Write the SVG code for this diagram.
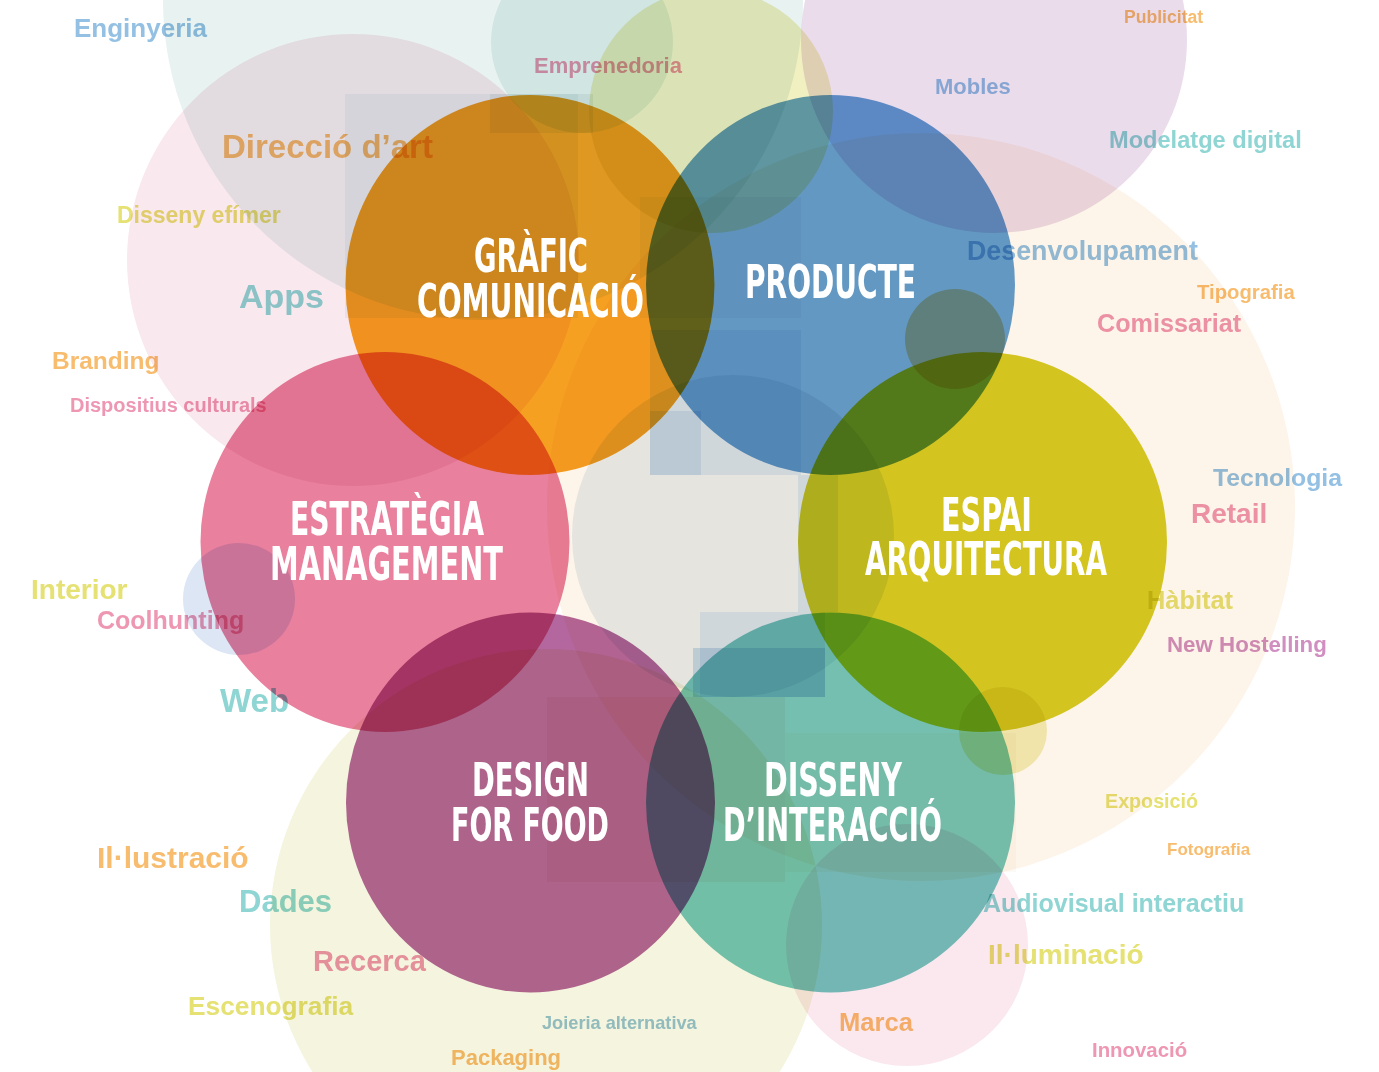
<svg xmlns="http://www.w3.org/2000/svg" width="1379" height="1072" viewBox="0 0 1379 1072">
<style>
.m{mix-blend-mode:multiply}
.lbl{font-family:'Liberation Sans',Arial,sans-serif;font-weight:bold;mix-blend-mode:multiply}
.lb{fill:#93c0e3}
.tl{fill:#8ed5d3}
.or{fill:#f8bc6e}
.ye{fill:#e5e172}
.pk{fill:#ee97b2}
.pu{fill:#d08fc0}
.jo{fill:#97c4d8}
.ttl{font-family:'Liberation Sans Narrow','DejaVu Sans Condensed','Liberation Sans',sans-serif;font-weight:bold;font-size:47px;fill:#ffffff}
</style>
<rect x="0" y="0" width="1379" height="1072" fill="#ffffff"/>
<g id="background">
  <circle class="m" cx="483" cy="0" r="320" fill="#e8f2f1"/>
  <circle class="m" cx="582" cy="42" r="91" fill="#e6f2f0"/>
  <circle class="m" cx="711" cy="111" r="122" fill="#f1f0c1"/>
  <circle class="m" cx="994" cy="40" r="193" fill="#ebdcec"/>
  <circle class="m" cx="353" cy="260" r="226" fill="#f9e8ee"/>
  <circle class="m" cx="921" cy="507" r="374" fill="#fdf4ea"/>
  <circle class="m" cx="733" cy="536" r="161" fill="#e7eff3"/>
  <circle class="m" cx="546" cy="925" r="276" fill="#f5f4de"/>
  <circle class="m" cx="907" cy="945" r="121" fill="#fae8ee"/>
  <circle class="m" cx="239" cy="599" r="56" fill="#dde6f5"/>
  <circle class="m" cx="955" cy="339" r="50" fill="#f5d5a2"/>
  <circle class="m" cx="1003" cy="731" r="44" fill="#f2efbb"/>
  <rect class="m" x="345" y="94" width="233" height="224" fill="#f1f6f8"/>
  <rect class="m" x="490" y="94" width="103" height="39" fill="#eef2f4"/>
  <rect class="m" x="640" y="197" width="161" height="121" fill="#f4f7f9"/>
  <path class="m" d="M650,330 H801 V475 H701 V411 H650 Z" fill="#e8f1fa"/>
  <rect class="m" x="650" y="411" width="51" height="64" fill="#cfe1f2"/>
  <rect class="m" x="798" y="475" width="40" height="137" fill="#e8f1fa"/>
  <rect class="m" x="700" y="612" width="125" height="85" fill="#e8f1fa"/>
  <rect class="m" x="693" y="648" width="132" height="49" fill="#d3e3f2"/>
  <rect class="m" x="547" y="697" width="238" height="185" fill="#fbf3f0"/>
  <rect class="m" x="785" y="733" width="231" height="139" fill="#fcfaf4"/>
</g>
<g id="connectors"></g>
<g id="node-grafic">
  <ellipse class="m" cx="530" cy="285" rx="184.5" ry="190" fill="#f6a022"/>
  <text class="ttl"><tspan x="474" y="272" textLength="114" lengthAdjust="spacingAndGlyphs">GRÀFIC</tspan><tspan x="417" y="317" textLength="227" lengthAdjust="spacingAndGlyphs">COMUNICACIÓ</tspan></text>
</g>
<g id="node-producte">
  <ellipse class="m" cx="830.5" cy="285" rx="184.5" ry="190" fill="#649fd4"/>
  <text class="ttl" x="745" y="298" textLength="171" lengthAdjust="spacingAndGlyphs">PRODUCTE</text>
</g>
<g id="node-estrategia">
  <ellipse class="m" cx="385" cy="542" rx="184.5" ry="190" fill="#e8809e"/>
  <text class="ttl"><tspan x="290" y="535" textLength="194" lengthAdjust="spacingAndGlyphs">ESTRATÈGIA</tspan><tspan x="270" y="580" textLength="233" lengthAdjust="spacingAndGlyphs">MANAGEMENT</tspan></text>
</g>
<g id="node-espai">
  <ellipse class="m" cx="982.5" cy="542" rx="184.5" ry="190" fill="#d5cd22"/>
  <text class="ttl"><tspan x="941" y="531" textLength="91" lengthAdjust="spacingAndGlyphs">ESPAI</tspan><tspan x="865" y="575" textLength="242" lengthAdjust="spacingAndGlyphs">ARQUITECTURA</tspan></text>
</g>
<g id="node-food">
  <ellipse class="m" cx="530.5" cy="802.5" rx="184.5" ry="190" fill="#b4679f"/>
  <text class="ttl"><tspan x="472" y="796" textLength="117" lengthAdjust="spacingAndGlyphs">DESIGN</tspan><tspan x="451" y="841" textLength="158" lengthAdjust="spacingAndGlyphs">FOR FOOD</tspan></text>
</g>
<g id="node-interaccio">
  <ellipse class="m" cx="830.5" cy="802.5" rx="184.5" ry="190" fill="#76c8c0"/>
  <text class="ttl"><tspan x="764" y="796" textLength="138" lengthAdjust="spacingAndGlyphs">DISSENY</tspan><tspan x="723" y="841" textLength="219" lengthAdjust="spacingAndGlyphs">D’INTERACCIÓ</tspan></text>
</g>
<g id="labels">
  <text class="lbl lb" x="74" y="37" font-size="26">Enginyeria</text>
  <text class="lbl pk" x="534" y="73" font-size="22">Emprenedoria</text>
  <text class="lbl or" x="222" y="158" font-size="33">Direcció d’art</text>
  <text class="lbl ye" x="117" y="223" font-size="23">Disseny efímer</text>
  <text class="lbl tl" x="239" y="308" font-size="34">Apps</text>
  <text class="lbl or" x="52" y="369" font-size="24.5">Branding</text>
  <text class="lbl pk" x="70" y="412" font-size="20">Dispositius culturals</text>
  <text class="lbl ye" x="31" y="599" font-size="28">Interior</text>
  <text class="lbl pk" x="97" y="629" font-size="25">Coolhunting</text>
  <text class="lbl tl" x="220" y="712" font-size="33">Web</text>
  <text class="lbl or" x="97" y="868" font-size="30">Il·lustració</text>
  <text class="lbl tl" x="239" y="912" font-size="31">Dades</text>
  <text class="lbl pk" x="313" y="971" font-size="29">Recerca</text>
  <text class="lbl ye" x="188" y="1015" font-size="26.3">Escenografia</text>
  <text class="lbl or" x="451" y="1065" font-size="22">Packaging</text>
  <text class="lbl jo" x="542" y="1029" font-size="18.2">Joieria alternativa</text>
  <text class="lbl or" x="839" y="1031" font-size="25.6">Marca</text>
  <text class="lbl pk" x="1092" y="1057" font-size="20.4">Innovació</text>
  <text class="lbl ye" x="988" y="964" font-size="28">Il·luminació</text>
  <text class="lbl tl" x="983" y="912" font-size="25">Audiovisual interactiu</text>
  <text class="lbl or" x="1167" y="855" font-size="17">Fotografia</text>
  <text class="lbl ye" x="1105" y="808" font-size="19.7">Exposició</text>
  <text class="lbl lb" x="1213" y="486" font-size="24.8">Tecnologia</text>
  <text class="lbl pk" x="1191" y="523" font-size="28">Retail</text>
  <text class="lbl ye" x="1147" y="609" font-size="25.4">Hàbitat</text>
  <text class="lbl pu" x="1167" y="652" font-size="22.3">New Hostelling</text>
  <text class="lbl pk" x="1097" y="332" font-size="25.2">Comissariat</text>
  <text class="lbl or" x="1197" y="299" font-size="20.3">Tipografia</text>
  <text class="lbl lb" x="967" y="260" font-size="26.8">Desenvolupament</text>
  <text class="lbl tl" x="1109" y="148" font-size="23.6">Modelatge digital</text>
  <text class="lbl lb" x="935" y="94" font-size="22">Mobles</text>
  <text class="lbl or" x="1124" y="23" font-size="17.6">Publicitat</text>
</g>
</svg>
